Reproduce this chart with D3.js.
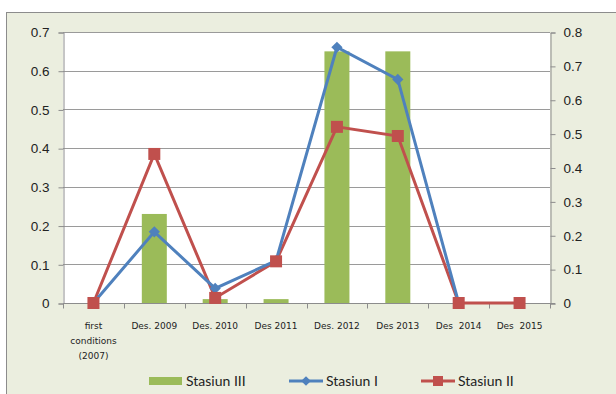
<!DOCTYPE html>
<html>
<head>
<meta charset="utf-8">
<script src="https://d3js.org/d3.v7.min.js"></script>
<style>
  body { margin: 0; background: #fff; }
  svg { display: block; font-family: Lato, "Open Sans", sans-serif; }
</style>
</head>
<body>
<div id="chart"></div>
<script>
// Data
const categories = ["first conditions (2007)", "Des. 2009", "Des. 2010", "Des 2011", "Des. 2012", "Des 2013", "Des  2014", "Des  2015"];
const stasiunIII = [0, 0.23, 0.01, 0.01, 0.65, 0.65, 0, 0];
const stasiunI = [0, 0.21, 0.043, 0.125, 0.755, 0.66, 0, null];
const stasiunII = [0, 0.44, 0.015, 0.123, 0.52, 0.493, 0, 0];
const leftTicks = [0, 0.1, 0.2, 0.3, 0.4, 0.5, 0.6, 0.7];
const rightTicks = [0, 0.1, 0.2, 0.3, 0.4, 0.5, 0.6, 0.7, 0.8];

const W = 616, H = 394;
const plot = { left: 63, right: 550, top: 32, bottom: 303 };

const svg = d3.select("#chart").append("svg")
  .attr("width", W).attr("height", H);

// chart background
svg.append("rect")
  .attr("x", 6.5).attr("y", 12.5).attr("width", W).attr("height", H)
  .attr("fill", "#ebeedf").attr("stroke", "#8c8c8c");

svg.append("rect")
  .attr("x", plot.left).attr("y", plot.top)
  .attr("width", plot.right - plot.left).attr("height", plot.bottom - plot.top)
  .attr("fill", "#fff");

// Scales
const x = d3.scaleBand().domain(categories).range([plot.left, plot.right]);
const yL = d3.scaleLinear().domain([0, 0.7]).range([plot.bottom, plot.top]);
const yR = d3.scaleLinear().domain([0, 0.8]).range([plot.bottom, plot.top]);

// gridlines
svg.append("g").selectAll("line")
  .data(leftTicks.slice(1))
  .join("line")
  .attr("x1", plot.left).attr("x2", plot.right)
  .attr("y1", d => Math.round(yL(d)) + 0.5).attr("y2", d => Math.round(yL(d)) + 0.5)
  .attr("stroke", "#9a9a9a").attr("stroke-width", 1);

// axes
const axisL = svg.append("g")
  .attr("transform", `translate(${plot.left + 0.5},0.5)`)
  .call(d3.axisLeft(yL).tickValues(leftTicks).tickFormat(d => d === 0 ? "0" : d3.format(".1f")(d)).tickSize(5).tickPadding(9));
const axisR = svg.append("g")
  .attr("transform", `translate(${plot.right + 0.5},0.5)`)
  .call(d3.axisRight(yR).tickValues(rightTicks).tickFormat(d => d === 0 ? "0" : d3.format(".1f")(d)).tickSize(5).tickPadding(8));
[axisL, axisR].forEach(a => {
  a.select(".domain").attr("stroke", "#8c8c8c");
  a.selectAll(".tick line").attr("stroke", "#8c8c8c");
  a.selectAll(".tick text").attr("fill", "#222").style("font-size", "13.5px");
});

// bars
svg.append("g").selectAll("rect")
  .data(stasiunIII)
  .join("rect")
  .attr("x", (d, i) => x(categories[i]) + x.bandwidth() / 2 - 12.5)
  .attr("width", 25)
  .attr("y", d => yL(d))
  .attr("height", d => plot.bottom - yL(d))
  .attr("fill", "#9bbb59");

// x axis
const axisX = svg.append("g")
  .attr("transform", `translate(0,${plot.bottom + 0.5})`);
axisX.append("line")
  .attr("x1", plot.left).attr("x2", plot.right + 5)
  .attr("stroke", "#8c8c8c");
axisX.selectAll(".tk")
  .data(d3.range(categories.length + 1))
  .join("line")
  .attr("x1", i => Math.round(plot.left + i * x.bandwidth()) + 0.5)
  .attr("x2", i => Math.round(plot.left + i * x.bandwidth()) + 0.5)
  .attr("y1", 0).attr("y2", 5)
  .attr("stroke", "#8c8c8c");

const xLabels = svg.append("g").selectAll("text")
  .data(categories)
  .join("text")
  .attr("x", d => x(d) + x.bandwidth() / 2)
  .attr("y", 329)
  .attr("text-anchor", "middle")
  .attr("fill", "#222")
  .style("font-family", "'DejaVu Sans', sans-serif")
  .style("font-size", "9px")
  .style("white-space", "pre");
xLabels.each(function(d, i) {
  const t = d3.select(this);
  const parts = i === 0 ? ["first", "conditions", "(2007)"] : [d];
  parts.forEach((p, k) => {
    t.append("tspan").attr("x", x(d) + x.bandwidth() / 2).attr("dy", k === 0 ? 0 : 15).text(p);
  });
});

// lines
const cx = i => x(categories[i]) + x.bandwidth() / 2;
const line = d3.line()
  .defined(d => d != null)
  .x((d, i) => cx(i))
  .y(d => yR(d));

svg.append("path")
  .attr("d", line(stasiunII))
  .attr("fill", "none").attr("stroke", "#c0504d").attr("stroke-width", 3);
svg.append("path")
  .attr("d", line(stasiunI))
  .attr("fill", "none").attr("stroke", "#4f81bd").attr("stroke-width", 3);

svg.append("g").selectAll("path")
  .data(stasiunI.map((v, i) => [v, i]).filter(d => d[0] != null))
  .join("path")
  .attr("d", d3.symbol(d3.symbolDiamond2, 80))
  .attr("transform", d => `translate(${cx(d[1])},${yR(d[0])})`)
  .attr("fill", "#4f81bd");

svg.append("g").selectAll("rect")
  .data(stasiunII.map((v, i) => [v, i]))
  .join("rect")
  .attr("x", d => cx(d[1]) - 6).attr("y", d => yR(d[0]) - 6)
  .attr("width", 12).attr("height", 12)
  .attr("fill", "#c0504d");

// legend
const leg = svg.append("g").style("font-size", "14px").attr("fill", "#222");
leg.append("rect").attr("x", 149).attr("y", 377).attr("width", 33).attr("height", 8).attr("fill", "#9bbb59");
leg.append("text").attr("x", 186).attr("y", 386).text("Stasiun III");
leg.append("line").attr("x1", 289).attr("x2", 323).attr("y1", 381).attr("y2", 381).attr("stroke", "#4f81bd").attr("stroke-width", 3);
leg.append("path").attr("d", d3.symbol(d3.symbolDiamond2, 60)).attr("transform", "translate(306,381)").attr("fill", "#4f81bd");
leg.append("text").attr("x", 326).attr("y", 386).text("Stasiun I");
leg.append("line").attr("x1", 421).attr("x2", 455).attr("y1", 381).attr("y2", 381).attr("stroke", "#c0504d").attr("stroke-width", 3);
leg.append("rect").attr("x", 433).attr("y", 376).attr("width", 10).attr("height", 10).attr("fill", "#c0504d");
leg.append("text").attr("x", 458).attr("y", 386).text("Stasiun II");
</script>
</body>
</html>
